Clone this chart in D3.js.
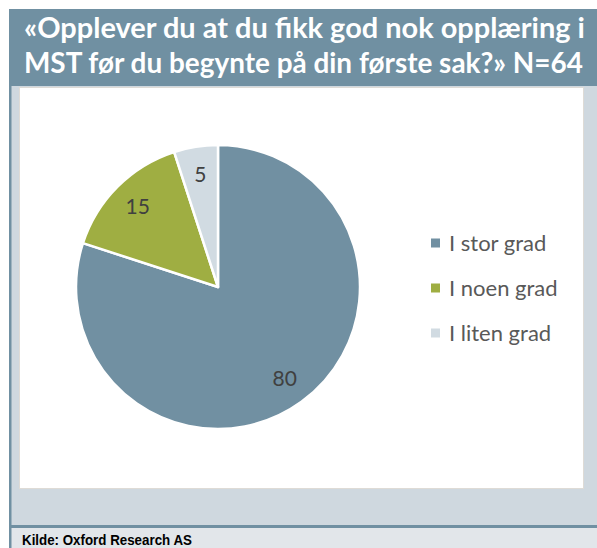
<!DOCTYPE html>
<html>
<head>
<meta charset="utf-8">
<script src="https://cdn.jsdelivr.net/npm/d3@7"></script>
<style>
  html, body { margin: 0; padding: 0; background: #ffffff; }
  svg { display: block; }
</style>
</head>
<body>
<svg id="chart" width="597" height="548"></svg>
<script>
// Survey answers, share of respondents (%), N=64
const categories = ["I stor grad", "I noen grad", "I liten grad"];
const values = [80, 15, 5];
const colors = ["#7190a2", "#9fae42", "#d1dbe2"];
const titleLines = ["«Opplever du at du fikk god nok opplæring i", "MST før du begynte på din første sak?» N=64"];
const sourceText = "Kilde: Oxford Research AS";

const W = 597, H = 548;
const svg = d3.select("#chart");

// Fit a text element's font size so that its rendered width equals target
function fitWidth(sel, target) {
  const node = sel.node();
  const fs = parseFloat(sel.attr("font-size"));
  const w = node.getComputedTextLength();
  sel.attr("font-size", (fs * target / w).toFixed(2));
}

// Frame: grey panel, title band, borders, source strip
svg.append("rect").attr("x", 9).attr("y", 86).attr("width", W - 9).attr("height", 440).attr("fill", "#cfd8df");
svg.append("rect").attr("x", 9).attr("y", 9).attr("width", W - 9).attr("height", 77).attr("fill", "#7090a2");
svg.append("rect").attr("x", 9).attr("y", 528).attr("width", W - 9).attr("height", 20).attr("fill", "#e2e6ea");
svg.append("rect").attr("x", 9).attr("y", 525).attr("width", W - 9).attr("height", 3).attr("fill", "#7090a2");
svg.append("rect").attr("x", 9).attr("y", 86).attr("width", 2.5).attr("height", H - 86).attr("fill", "#7090a2");

// White plot area
svg.append("rect").attr("x", 19.5).attr("y", 87.5).attr("width", 564).attr("height", 401)
  .attr("fill", "#ffffff").attr("stroke", "#dedbd6").attr("stroke-width", 1);

// Title
const titleBaselines = [38, 73];
const titleWidths = [561, 559];
titleLines.forEach((t, i) => {
  const el = svg.append("text")
    .attr("x", 24).attr("y", titleBaselines[i])
    .attr("font-family", "Lato, 'Open Sans', sans-serif")
    .attr("font-weight", "bold").attr("font-size", 24)
    .attr("fill", "#ffffff").text(t);
  fitWidth(el, titleWidths[i]);
});

// Pie
const cx = 218, cy = 287, r = 142;
const pie = d3.pie().sort(null).value(d => d)(values);
const arc = d3.arc().innerRadius(0).outerRadius(r);
const labelArc = d3.arc().innerRadius(r * 0.8).outerRadius(r * 0.8);
const color = d3.scaleOrdinal().domain(categories).range(colors);

const g = svg.append("g").attr("transform", `translate(${cx},${cy})`);
g.selectAll("path.slice").data(pie).join("path")
  .attr("class", "slice")
  .attr("d", arc)
  .attr("fill", (d, i) => color(categories[i]))
  .attr("stroke", "#ffffff").attr("stroke-width", 2.5).attr("stroke-linejoin", "round");

g.selectAll("text.val").data(pie).join("text")
  .attr("class", "val")
  .attr("transform", d => `translate(${labelArc.centroid(d)})`)
  .attr("text-anchor", "middle").attr("dy", "0.35em")
  .attr("font-family", "Lato, 'Open Sans', sans-serif")
  .attr("font-size", 21).attr("fill", "#404040")
  .text(d => d.data);

// Legend
const legendY = d3.scalePoint().domain(categories).range([243, 333]);
const lg = svg.append("g");
categories.forEach(c => {
  const y = legendY(c);
  lg.append("rect").attr("x", 431).attr("y", y - 4.5).attr("width", 9).attr("height", 9).attr("fill", color(c));
  lg.append("text").attr("x", 449).attr("y", y).attr("dy", "0.35em")
    .attr("font-family", "Lato, 'Open Sans', sans-serif")
    .attr("font-size", 22).attr("fill", "#595959").text(c);
});

// Source note, horizontally condensed to a narrow face
const src = svg.append("text").attr("x", 0).attr("y", 0)
  .attr("font-family", "'Liberation Sans', Arial, sans-serif")
  .attr("font-weight", "bold").attr("font-size", 15.5).attr("fill", "#000000").text(sourceText);
const srcW = src.node().getComputedTextLength();
src.attr("transform", `translate(22,545) scale(${(170 / srcW).toFixed(4)},1)`);
</script>
</body>
</html>
